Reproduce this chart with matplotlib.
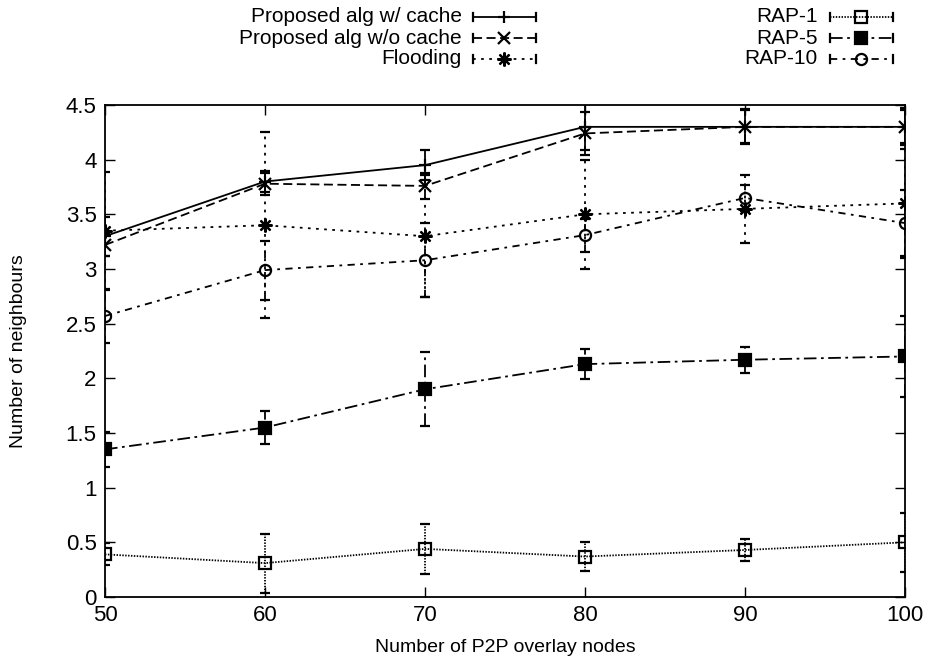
import matplotlib
matplotlib.use("Agg")
import matplotlib.pyplot as plt
from matplotlib.lines import Line2D

plt.rcParams['font.family'] = ['Liberation Sans', 'DejaVu Sans']

# x values: number of P2P overlay nodes
nodes = [50, 60, 70, 80, 90, 100]

# mean number of neighbours and error bar half widths
with_cache = [3.30, 3.80, 3.95, 4.30, 4.30, 4.30]
with_cache_err = [0.18, 0.10, 0.14, 0.21, 0.16, 0.17]

without_cache = [3.22, 3.78, 3.76, 4.24, 4.30, 4.30]
without_cache_err = [0.10, 0.10, 0.12, 0.20, 0.15, 0.15]

flooding = [3.35, 3.40, 3.30, 3.50, 3.55, 3.60]
flooding_err = [0.54, 0.85, 0.56, 0.50, 0.31, 0.50]

rap1 = [0.39, 0.31, 0.44, 0.37, 0.43, 0.50]
rap1_err = [0.10, 0.27, 0.23, 0.13, 0.10, 0.27]

rap5 = [1.35, 1.55, 1.90, 2.13, 2.17, 2.20]
rap5_err = [0.16, 0.15, 0.34, 0.14, 0.12, 0.37]

rap10 = [2.57, 2.99, 3.08, 3.31, 3.65, 3.42]
rap10_err = [0.25, 0.27, 0.34, 0.15, 0.12, 0.30]

labels = ["Proposed alg w/ cache", "Proposed alg w/o cache", "Flooding",
          "RAP-1", "RAP-5", "RAP-10"]

W, H = 929, 664
FS = 15


def main():
    fig = plt.figure(figsize=(W / 100, H / 100), dpi=100)
    ax = fig.add_axes([105 / W, 1 - 597 / H, 800 / W, 492 / H])

    # (values, errors, linestyle, marker, filled, size)
    series = [
        (with_cache, with_cache_err, '-', '+', False, 9),
        (without_cache, without_cache_err, (0, (5, 2.5)), 'x', False, 8),
        (flooding, flooding_err, (0, (1.5, 3)), (8, 2, 0), False, 10),
        (rap1, rap1_err, (0, (0.8, 0.8)), 's', False, 8),
        (rap5, rap5_err, (0, (7, 2.5, 1.5, 2.5)), 's', True, 8),
        (rap10, rap10_err, (0, (4, 3, 1.5, 3)), 'o', False, 8),
    ]

    lw = 1.3
    for (vals, err, ls, mk, filled, ms), lab in zip(series, labels):
        eb = ax.errorbar(nodes, vals, yerr=err, color='black', lw=lw, ls=ls,
                         marker=mk, ms=ms, mew=1.6,
                         mfc='black' if filled else 'none',
                         capsize=3.5, capthick=1.6, elinewidth=lw)
        eb[2][0].set_linestyle(ls)

    ax.set_xlim(50, 100)
    ax.set_ylim(0, 4.5)
    ax.set_xticks(nodes)
    ax.set_yticks([0, 0.5, 1, 1.5, 2, 2.5, 3, 3.5, 4, 4.5])
    ax.set_yticklabels(['0', '0.5', '1', '1.5', '2', '2.5', '3', '3.5', '4', '4.5'])
    ax.tick_params(direction='in', length=7, width=1, top=True, right=True,
                   labelsize=16, pad=6)
    for sp in ax.spines.values():
        sp.set_linewidth(1.3)
    ax.set_xlabel("Number of P2P overlay nodes", fontsize=14, labelpad=9)
    ax.set_ylabel("Number of neighbours", fontsize=14)
    ax.yaxis.set_label_coords(-78 / 800, 0.5)

    # gnuplot-style key: text right aligned, sample line with caps after it
    rows = [17, 38, 59]
    blocks = [(462, 473, 536), (818, 830, 893)]
    for i, ((vals, err, ls, mk, filled, ms), lab) in enumerate(zip(series, labels)):
        tx, x0, x1 = blocks[i // 3]
        y = 1 - rows[i % 3] / H
        fig.text(tx / W, y, lab, ha='right', va='center', fontsize=FS)
        fig.add_artist(Line2D([x0 / W, x1 / W], [y, y], color='black', lw=lw, ls=ls))
        fig.add_artist(Line2D([(x0 + x1) / 2 / W], [y], color='black', marker=mk,
                              ms=ms, mew=1.6, mfc='black' if filled else 'none'))
        for xc in (x0, x1):
            fig.add_artist(Line2D([xc / W, xc / W], [y - 4 / H, y + 4 / H],
                                  color='black', lw=1.6))

    fig.savefig("out.png", dpi=100)


if __name__ == "__main__":
    main()
